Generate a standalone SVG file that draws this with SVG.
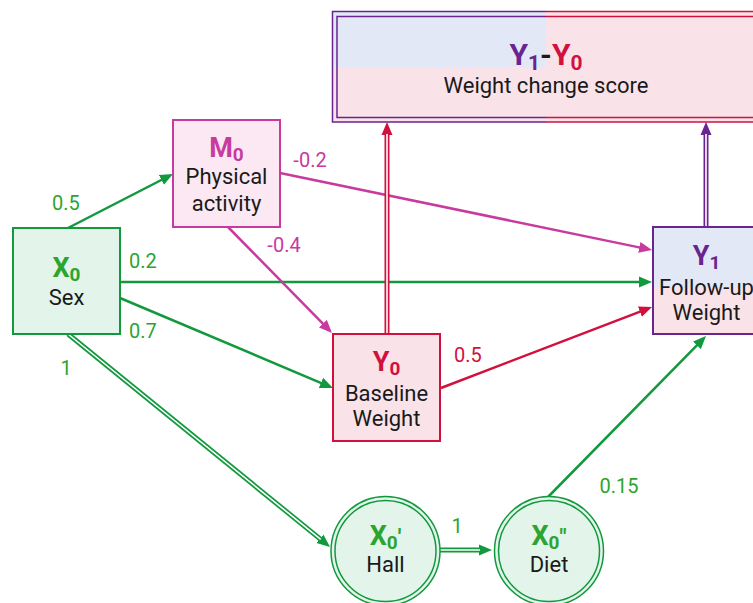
<svg xmlns="http://www.w3.org/2000/svg" width="753" height="603" viewBox="0 0 753 603">
<style>
text{font-family:Roboto,"Liberation Sans",sans-serif;text-anchor:middle}
.lbl{font-size:22px;fill:#1a1a1a}
.ttl{font-size:27px;font-weight:bold}
.big{font-size:30px;font-weight:bold}
.sub{font-size:19px;font-weight:bold}
.w{font-size:20px}
.g{fill:#2ca52f}.m{fill:#c93a9e}.r{fill:#d2103e}.p{fill:#6a2490}
.ln{fill:none;stroke-width:2.5}
.dbl{fill:none;stroke-width:5}
.wht{fill:none;stroke:#fff;stroke-width:1.6}
</style>
<defs>
<marker id="aG" markerUnits="userSpaceOnUse" markerWidth="14" markerHeight="12" viewBox="0 -6 14 12" refX="1" refY="0" orient="auto"><path d="M0,-5.5 L13,0 L0,5.5 z" fill="#12993e"/></marker>
<marker id="aM" markerUnits="userSpaceOnUse" markerWidth="14" markerHeight="12" viewBox="0 -6 14 12" refX="1" refY="0" orient="auto"><path d="M0,-5.5 L13,0 L0,5.5 z" fill="#c93a9e"/></marker>
<marker id="aR" markerUnits="userSpaceOnUse" markerWidth="14" markerHeight="12" viewBox="0 -6 14 12" refX="1" refY="0" orient="auto"><path d="M0,-5.5 L13,0 L0,5.5 z" fill="#d2103e"/></marker>
<marker id="aP" markerUnits="userSpaceOnUse" markerWidth="14" markerHeight="12" viewBox="0 -6 14 12" refX="1" refY="0" orient="auto"><path d="M0,-5.5 L13,0 L0,5.5 z" fill="#6a2490"/></marker>
</defs>

<g id="change">
<rect x="333" y="12" width="213" height="55" fill="#e3e8f6"/>
<rect x="333" y="67" width="213" height="55" fill="#f9e3e9"/>
<rect x="546" y="12" width="214" height="110" fill="#f9e3e9"/>
<path d="M546,11.5 H332.5 V122 H546 M546,16.5 H337 V117.5 H546" fill="none" stroke="#6a2490" stroke-width="1.5"/>
<path d="M546,11.5 H760 M546,16.5 H760 M546,122 H760 M546,117.5 H760" fill="none" stroke="#d2103e" stroke-width="1.5"/>
<text x="546" y="65" class="big"><tspan class="p">Y</tspan><tspan class="p sub" style="font-size:21px" dy="5">1</tspan><tspan dy="-5" fill="#1a1a1a">-</tspan><tspan class="r">Y</tspan><tspan class="r sub" style="font-size:21px" dy="5">0</tspan></text>
<text x="546" y="93" class="lbl">Weight change score</text>
</g>

<g id="connectors">
<line x1="68" y1="228" x2="162.3" y2="179.5" stroke="#12993e" class="ln" marker-end="url(#aG)"/>
<line x1="120" y1="282" x2="640" y2="282" stroke="#12993e" class="ln" marker-end="url(#aG)"/>
<line x1="120" y1="298" x2="321.9" y2="383.3" stroke="#12993e" class="ln" marker-end="url(#aG)"/>
<line x1="280" y1="173" x2="640.3" y2="247.6" stroke="#c93a9e" class="ln" marker-end="url(#aM)"/>
<line x1="228" y1="227" x2="323.6" y2="324.4" stroke="#c93a9e" class="ln" marker-end="url(#aM)"/>
<line x1="441" y1="388" x2="640.8" y2="311.3" stroke="#d2103e" class="ln" marker-end="url(#aR)"/>
<line x1="548" y1="497" x2="697.6" y2="344.6" stroke="#12993e" class="ln" marker-end="url(#aG)"/>

<line x1="68" y1="334" x2="320.7" y2="539.4" stroke="#12993e" class="dbl" marker-end="url(#aG)"/>
<line x1="68" y1="334" x2="320.7" y2="539.4" class="wht"/>
<line x1="440" y1="550" x2="480" y2="550" stroke="#12993e" class="dbl" marker-end="url(#aG)"/>
<line x1="440" y1="550" x2="480" y2="550" class="wht"/>
<line x1="387" y1="334" x2="387" y2="134" stroke="#d2103e" class="dbl" marker-end="url(#aR)"/>
<line x1="387" y1="334" x2="387" y2="134" class="wht"/>
<line x1="706" y1="227" x2="706" y2="134" stroke="#6a2490" class="dbl" marker-end="url(#aP)"/>
<line x1="706" y1="227" x2="706" y2="134" class="wht"/>

<text x="66" y="210" class="w g">0.5</text>
<text x="143" y="268" class="w g">0.2</text>
<text x="143" y="338" class="w g">0.7</text>
<text x="66" y="375" class="w g">1</text>
<text x="310" y="167" class="w m">-0.2</text>
<text x="284" y="252" class="w m">-0.4</text>
<text x="468" y="362" class="w r">0.5</text>
<text x="457" y="533" class="w g">1</text>
<text x="619" y="493" class="w g">0.15</text>
</g>

<g id="M0">
<rect x="173" y="120" width="107" height="107" fill="#fbe8f3" stroke="#c93a9e" stroke-width="2"/>
<text x="226.5" y="157" class="ttl m">M<tspan class="sub" dy="4">0</tspan></text>
<text x="226.5" y="184" class="lbl">Physical</text>
<text x="226.5" y="211" class="lbl">activity</text>
</g>

<g id="X0">
<rect x="13" y="228" width="107" height="106" fill="#e3f4ea" stroke="#12993e" stroke-width="2"/>
<text x="66.5" y="277" class="ttl g">X<tspan class="sub" dy="4">0</tspan></text>
<text x="66.5" y="305" class="lbl">Sex</text>
</g>

<g id="Y0">
<rect x="333" y="334" width="107" height="107" fill="#f9e3e9" stroke="#d2103e" stroke-width="2"/>
<text x="386.5" y="371" class="ttl r">Y<tspan class="sub" dy="4">0</tspan></text>
<text x="386.5" y="401" class="lbl">Baseline</text>
<text x="386.5" y="426" class="lbl">Weight</text>
</g>

<g id="Y1">
<rect x="653" y="227" width="107" height="61" fill="#e3e8f6"/>
<rect x="653" y="288" width="107" height="46" fill="#f9e3e9"/>
<rect x="653" y="227" width="107" height="107" fill="none" stroke="#6a2490" stroke-width="2"/>
<text x="706.5" y="265" class="ttl p">Y<tspan class="sub" dy="4">1</tspan></text>
<text x="706.5" y="295" class="lbl">Follow-up</text>
<text x="706.5" y="320" class="lbl">Weight</text>
</g>

<g id="X0p">
<circle cx="385.5" cy="551" r="54.5" fill="#e3f4ea" stroke="#12993e" stroke-width="1.5"/>
<circle cx="385.5" cy="551" r="50.5" fill="none" stroke="#12993e" stroke-width="1.5"/>
<text x="385.5" y="545" class="ttl g">X<tspan class="sub" dy="4">0</tspan><tspan dy="-4" style="font-size:22px">'</tspan></text>
<text x="385.5" y="572" class="lbl">Hall</text>
</g>

<g id="X0pp">
<circle cx="549" cy="551" r="54.5" fill="#e3f4ea" stroke="#12993e" stroke-width="1.5"/>
<circle cx="549" cy="551" r="50.5" fill="none" stroke="#12993e" stroke-width="1.5"/>
<text x="549" y="545" class="ttl g">X<tspan class="sub" dy="4">0</tspan><tspan dy="-4" style="font-size:22px">"</tspan></text>
<text x="549" y="572" class="lbl">Diet</text>
</g>
</svg>
